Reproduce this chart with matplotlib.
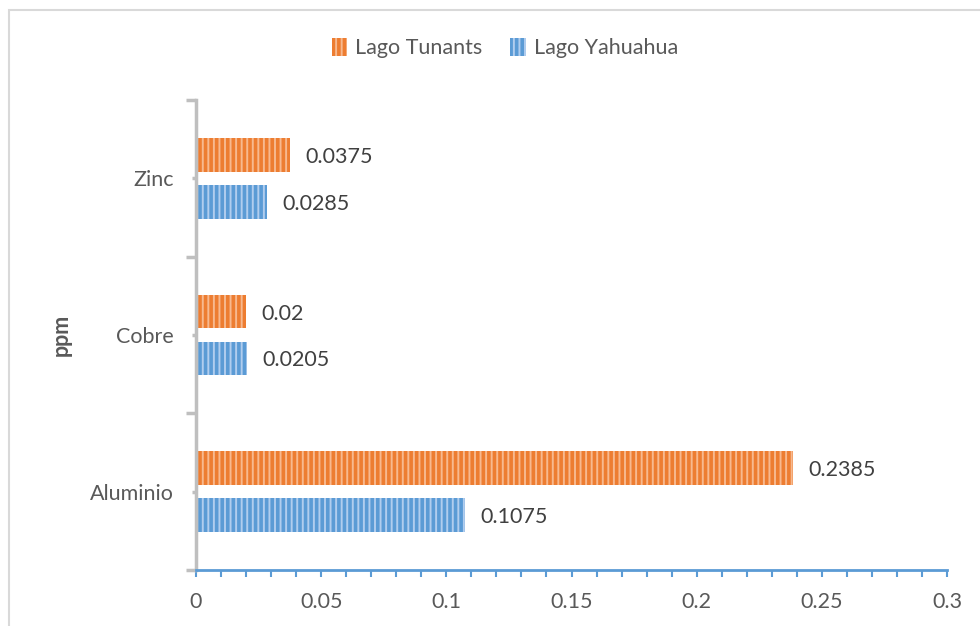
import matplotlib.pyplot as plt
from matplotlib.patches import Rectangle, Patch
from matplotlib.ticker import MultipleLocator, FixedLocator

# data
categories = ["Aluminio", "Cobre", "Zinc"]
tunants = [0.2385, 0.02, 0.0375]
yahuahua = [0.1075, 0.0205, 0.0285]
tunants_labels = ["0.2385", "0.02", "0.0375"]
yahuahua_labels = ["0.1075", "0.0205", "0.0285"]
x_ticks = [0, 0.05, 0.1, 0.15, 0.2, 0.25, 0.3]
x_tick_labels = ["0", "0.05", "0.1", "0.15", "0.2", "0.25", "0.3"]

orange = "#ED7D31"
blue = "#5B9BD5"
orange_stripe = "#F7B98F"
blue_stripe = "#B1CDEE"
text_col = "#595959"
fs = 15.5

plt.rcParams["font.family"] = ["Lato", "DejaVu Sans"]
plt.rcParams["hatch.linewidth"] = 1.4

fig = plt.figure(figsize=(9.8, 6.26), dpi=100)
ax = fig.add_axes([196 / 980, 1 - 570 / 626, (947 - 196) / 980, (570 - 100) / 626])

# outer chart frame (partly cut by the image edge)
fig.patches.append(Rectangle((9 / 980, -0.1), 1.2, (626 - 10) / 626 + 0.1,
                             transform=fig.transFigure, fill=False,
                             edgecolor="#D9D9D9", linewidth=1.5))

pos = list(range(len(categories)))
h = 0.217
off = 0.15

ax.barh([p + off for p in pos], tunants, height=h, color=orange,
        edgecolor=orange_stripe, linewidth=0, hatch="|||")
ax.barh([p - off for p in pos], yahuahua, height=h, color=blue,
        edgecolor=blue_stripe, linewidth=0, hatch="|||")

# data labels
for i in pos:
    ax.annotate(tunants_labels[i], (tunants[i], i + off), xytext=(15, -2),
                textcoords="offset pixels", va="center", ha="left",
                fontsize=fs, color="#404040")
    ax.annotate(yahuahua_labels[i], (yahuahua[i], i - off), xytext=(15, -2),
                textcoords="offset pixels", va="center", ha="left",
                fontsize=fs, color="#404040")

ax.set_xlim(0, 0.3)
ax.set_ylim(-0.5, 2.5)

# x axis
ax.xaxis.set_major_locator(FixedLocator(x_ticks))
ax.set_xticklabels(x_tick_labels)
ax.xaxis.set_minor_locator(MultipleLocator(0.01))
ax.tick_params(axis="x", which="both", direction="out", length=5, width=1.5,
               color=blue, labelsize=fs, labelcolor=text_col, pad=11)

# y axis
ax.set_yticks(pos)
ax.set_yticklabels(categories)
ax.yaxis.set_minor_locator(FixedLocator([-0.5, 0.5, 1.5, 2.5]))
ax.tick_params(axis="y", which="major", direction="out", length=3, width=2.5,
               color="#BFBFBF", labelsize=fs, labelcolor=text_col, pad=13)
ax.tick_params(axis="y", which="minor", direction="out", length=7, width=2.5,
               color="#BFBFBF")

for s in ["top", "right"]:
    ax.spines[s].set_visible(False)
ax.spines["left"].set_color("#BFBFBF")
ax.spines["left"].set_linewidth(2.5)
ax.spines["bottom"].set_color(blue)
ax.spines["bottom"].set_linewidth(2)

ax.set_ylabel("ppm", fontsize=fs, fontweight="bold", color=text_col)
ax.yaxis.set_label_coords((72 - 196) / 751, 0.5)

handles = [Patch(facecolor=orange, edgecolor=orange_stripe, linewidth=0, hatch="|||", label="Lago Tunants"),
           Patch(facecolor=blue, edgecolor=blue_stripe, linewidth=0, hatch="|||", label="Lago Yahuahua")]
fig.legend(handles=handles, loc="center", bbox_to_anchor=(505 / 980, 1 - 48 / 626),
           ncol=2, frameon=False, fontsize=fs, labelcolor=text_col,
           handlelength=0.7, handleheight=0.9, handletextpad=0.4, columnspacing=1.3)

fig.savefig("out.png", dpi=100)
